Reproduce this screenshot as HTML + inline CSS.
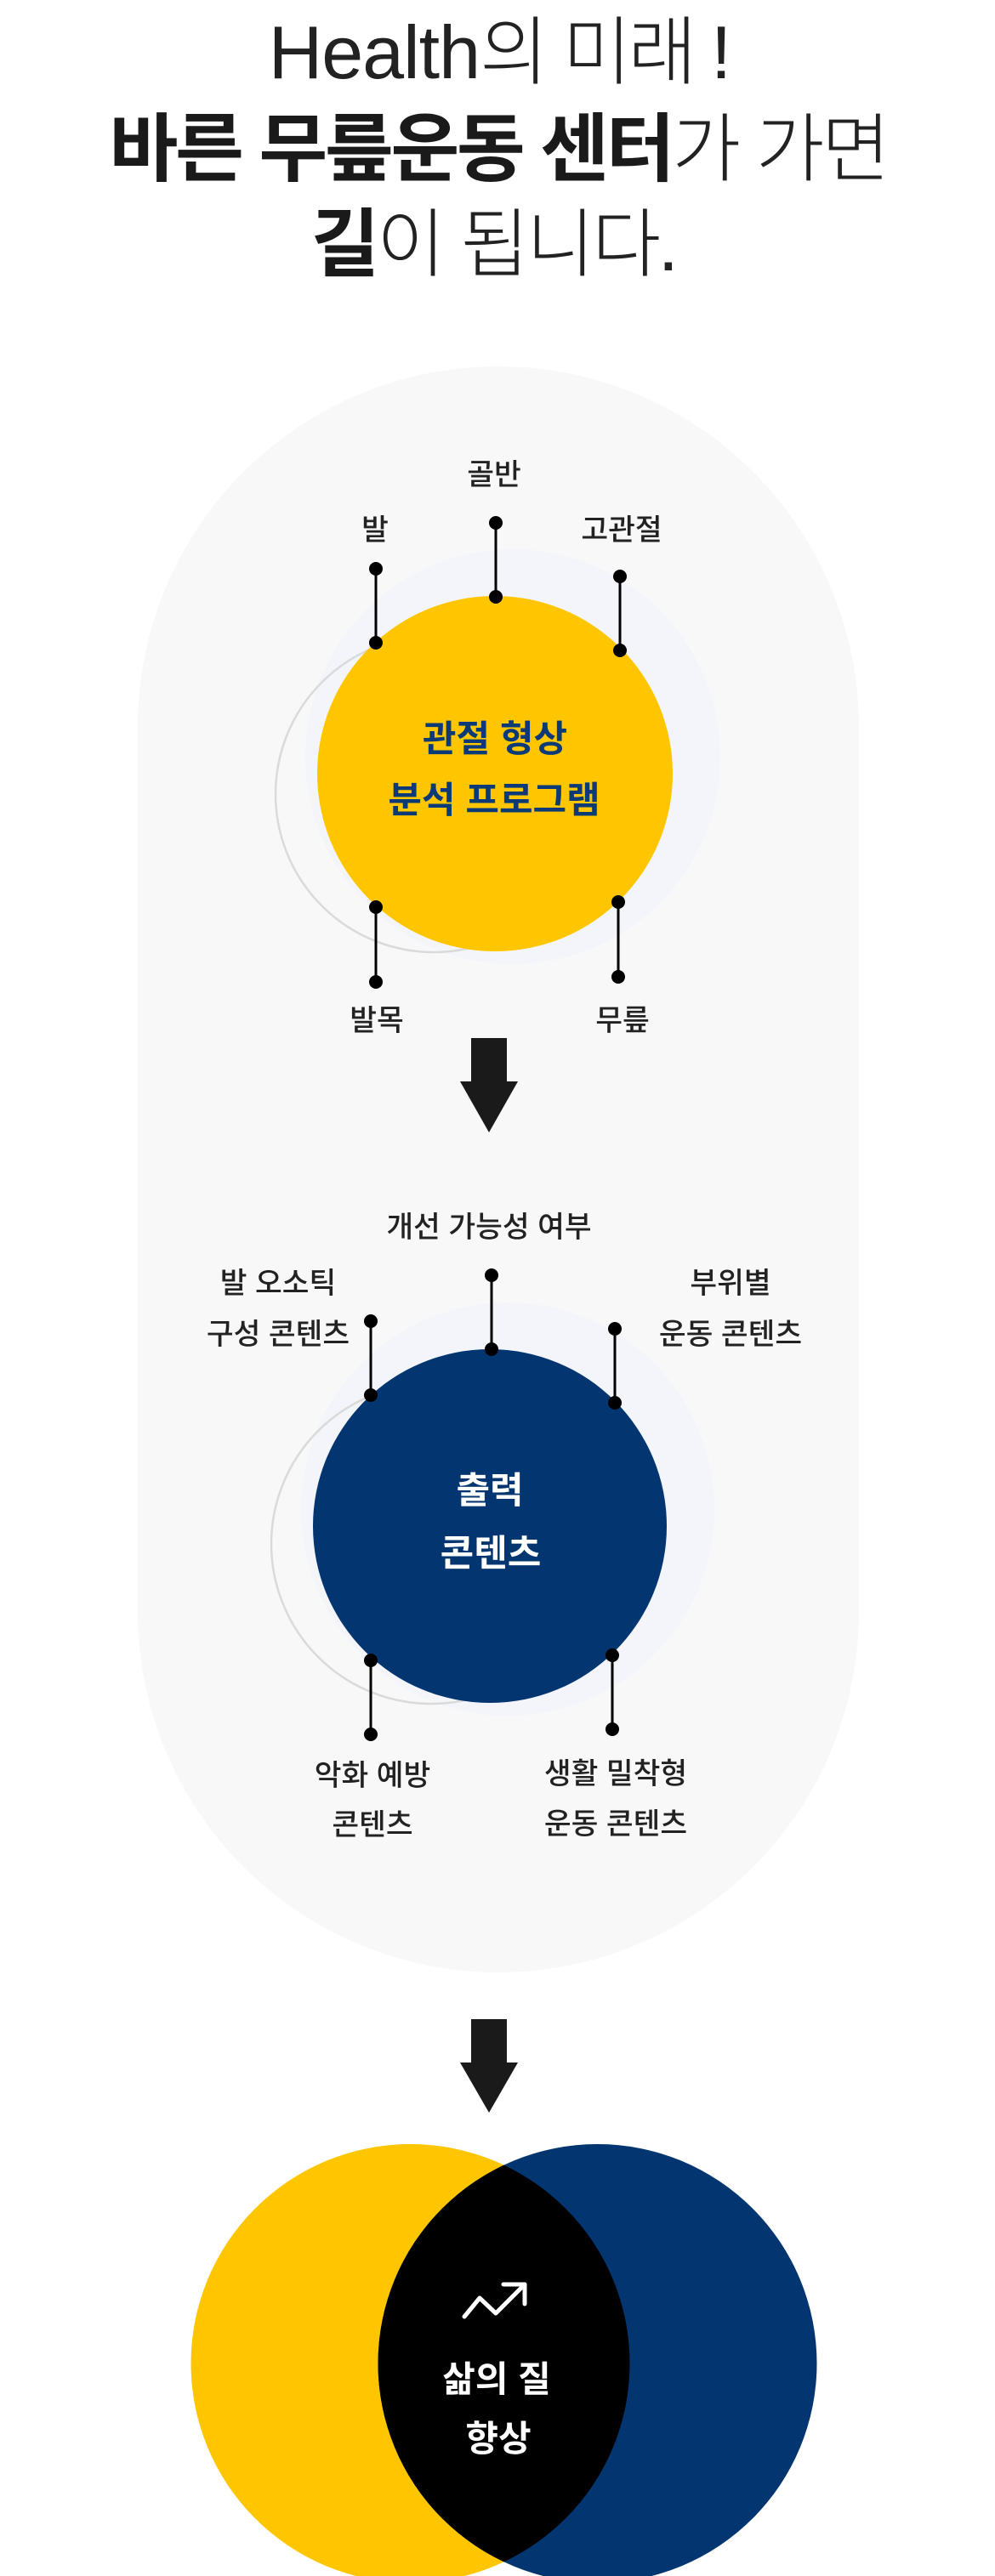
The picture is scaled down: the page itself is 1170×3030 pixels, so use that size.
<!DOCTYPE html>
<html><head><meta charset="utf-8">
<style>
html,body{margin:0;padding:0;background:#fff;}
svg{display:block;}
text{font-family:"Liberation Sans","Noto Sans CJK KR",sans-serif;}
</style></head><body>
<svg width="1170" height="3030" viewBox="0 0 1170 3030" xmlns="http://www.w3.org/2000/svg">
<defs>
<clipPath id="cy"><circle cx="482.5" cy="2780" r="258"/></clipPath>
</defs>

<!-- Title -->
<text x="586" y="92" text-anchor="middle" font-size="88" fill="#222" font-weight="300"><tspan letter-spacing="-1">Health</tspan><tspan letter-spacing="-4">의 미래 !</tspan></text>
<text x="586" y="206" text-anchor="middle" font-size="88" fill="#1a1a1a" letter-spacing="-3.5"><tspan font-weight="700">바른 무릎운동 센터</tspan><tspan font-weight="300" fill="#222">가 가면</tspan></text>
<text x="580" y="318" text-anchor="middle" font-size="88" fill="#1a1a1a" letter-spacing="-3.5"><tspan font-weight="700">길</tspan><tspan font-weight="300" fill="#222">이 됩니다.</tspan></text>

<!-- Panel -->
<rect x="162" y="431" width="848" height="1889" rx="424" ry="424" fill="#f8f8f9"/>

<!-- Section 1 -->
<circle cx="603" cy="890" r="244" fill="#f3f5fa"/>
<circle cx="510" cy="934" r="186" fill="none" stroke="#dadada" stroke-width="2.5"/>
<circle cx="582" cy="910" r="209" fill="#ffc600"/>
<text x="582" y="884" text-anchor="middle" font-size="43" font-weight="700" fill="#0b3a77">관절 형상</text>
<text x="581" y="956" text-anchor="middle" font-size="43" font-weight="700" fill="#0b3a77">분석 프로그램</text>

<g stroke="#000" stroke-width="3">
<line x1="583" y1="615" x2="583" y2="702"/>
<line x1="442" y1="669" x2="442" y2="756"/>
<line x1="729" y1="678" x2="729" y2="765"/>
<line x1="442" y1="1067" x2="442" y2="1155"/>
<line x1="727" y1="1061" x2="727" y2="1149"/>
</g>
<g fill="#000">
<circle cx="583" cy="615" r="8"/><circle cx="583" cy="702" r="8"/>
<circle cx="442" cy="669" r="8"/><circle cx="442" cy="756" r="8"/>
<circle cx="729" cy="678" r="8"/><circle cx="729" cy="765" r="8"/>
<circle cx="442" cy="1067" r="8"/><circle cx="442" cy="1155" r="8"/>
<circle cx="727" cy="1061" r="8"/><circle cx="727" cy="1149" r="8"/>
</g>
<g font-size="34.5" fill="#222" text-anchor="middle" font-weight="500">
<text x="581" y="570">골반</text>
<text x="441" y="635">발</text>
<text x="731" y="635">고관절</text>
<text x="443" y="1212">발목</text>
<text x="732" y="1212">무릎</text>
</g>

<!-- Arrow 1 -->
<polygon points="554,1221 596,1221 596,1272 609,1272 575,1332 541,1272 554,1272" fill="#1a1a1a"/>

<!-- Section 2 -->
<circle cx="597" cy="1775" r="243" fill="#f3f5fa"/>
<circle cx="507" cy="1816" r="188" fill="none" stroke="#dadada" stroke-width="2.5"/>
<circle cx="576" cy="1795" r="208" fill="#033671"/>
<text x="576" y="1768" text-anchor="middle" font-size="43" font-weight="700" fill="#fff">출력</text>
<text x="577" y="1842" text-anchor="middle" font-size="43" font-weight="700" fill="#fff">콘텐츠</text>

<g stroke="#000" stroke-width="3">
<line x1="578" y1="1500" x2="578" y2="1587"/>
<line x1="436" y1="1554" x2="436" y2="1641"/>
<line x1="723" y1="1563" x2="723" y2="1650"/>
<line x1="436" y1="1953" x2="436" y2="2040"/>
<line x1="720" y1="1947" x2="720" y2="2034"/>
</g>
<g fill="#000">
<circle cx="578" cy="1500" r="8"/><circle cx="578" cy="1587" r="8"/>
<circle cx="436" cy="1554" r="8"/><circle cx="436" cy="1641" r="8"/>
<circle cx="723" cy="1563" r="8"/><circle cx="723" cy="1650" r="8"/>
<circle cx="436" cy="1953" r="8"/><circle cx="436" cy="2040" r="8"/>
<circle cx="720" cy="1947" r="8"/><circle cx="720" cy="2034" r="8"/>
</g>
<g font-size="34.5" fill="#222" text-anchor="middle" font-weight="500">
<text x="575" y="1455">개선 가능성 여부</text>
<text x="327" y="1521">발 오소틱</text>
<text x="327" y="1581">구성 콘텐츠</text>
<text x="859" y="1521">부위별</text>
<text x="859" y="1581">운동 콘텐츠</text>
<text x="438" y="2100">악화 예방</text>
<text x="438" y="2158">콘텐츠</text>
<text x="724" y="2098">생활 밀착형</text>
<text x="724" y="2157">운동 콘텐츠</text>
</g>

<!-- Arrow 2 -->
<polygon points="554,2375 596,2375 596,2426 609,2426 575,2485 541,2426 554,2426" fill="#1a1a1a"/>

<!-- Venn -->
<circle cx="482.5" cy="2780" r="258" fill="#ffc600"/>
<circle cx="702.5" cy="2780" r="258" fill="#033671"/>
<circle cx="702.5" cy="2780" r="258" fill="#000" clip-path="url(#cy)"/>

<g fill="none" stroke="#fff" stroke-width="5" stroke-linecap="round" stroke-linejoin="round">
<polyline points="546,2725 564,2703 583,2721 617,2687"/>
<polyline points="592,2687 617,2687 617,2710"/>
</g>
<text x="584" y="2813" text-anchor="middle" font-size="42" font-weight="700" fill="#fff">삶의 질</text>
<text x="586" y="2883" text-anchor="middle" font-size="42" font-weight="700" fill="#fff">향상</text>
</svg>
</body></html>
